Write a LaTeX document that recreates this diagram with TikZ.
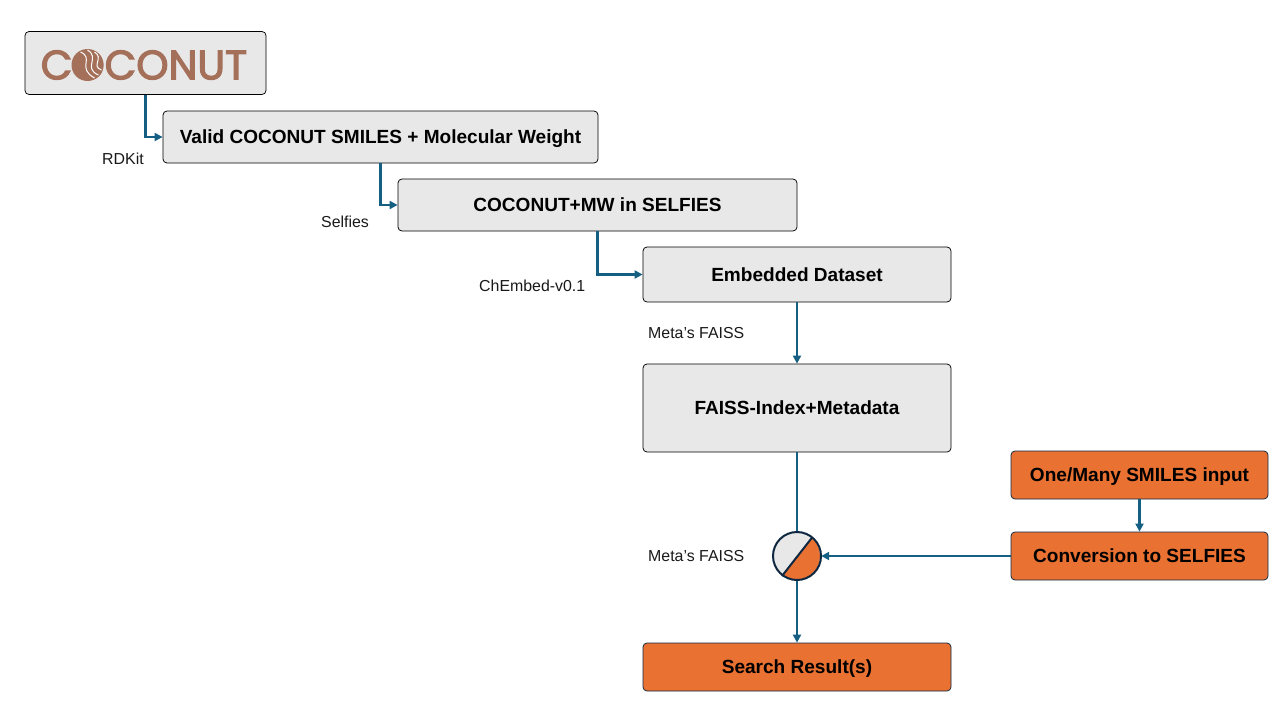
\documentclass[tikz,border=0pt]{standalone}
\usepackage{fontspec}
\setmainfont{Liberation Sans}
\newfontfamily\logof[FakeBold=3]{Poppins}
\usetikzlibrary{arrows.meta,calc}
\definecolor{boxg}{HTML}{E8E8E8}
\definecolor{orng}{HTML}{E97132}
\definecolor{conn}{HTML}{156082}
\definecolor{dark}{HTML}{0E2841}
\definecolor{logoc}{HTML}{A5705A}
\tikzset{
 x=1pt,y=-1pt,
 gbox/.style={draw=black,line width=0.75pt,fill=boxg,rounded corners=4pt,inner sep=0pt,text depth=0pt,font=\fontsize{19.05}{20}\selectfont\bfseries},
 obox/.style={gbox,draw=dark,fill=orng},
 lab/.style={font=\fontsize{15.9}{18}\selectfont,inner sep=0pt,text=black!90},
 link/.style={draw=conn,line width=2.6pt,-{Triangle[length=8pt,width=8pt]}},
}
\newcommand{\bx}[6]{\node[#1,minimum width=#4 pt,minimum height=#5 pt] (#2) at (#3) {#6};}
\begin{document}
\begin{tikzpicture}
\useasboundingbox (0,0) rectangle (1280,720);
\bx{gbox}{logo}{145.5,63}{241}{63}{}
\bx{gbox}{valid}{380.5,137}{435}{52}{Valid COCONUT SMILES + Molecular Weight}
\bx{gbox}{selfies}{597.5,205}{399}{52}{COCONUT+MW in SELFIES}
\bx{gbox}{embed}{797,274.5}{308}{55}{Embedded Dataset}
\bx{gbox}{faiss}{797,408}{308}{88}{FAISS-Index+Metadata}
\bx{obox}{search}{797,667}{308}{48}{Search Result(s)}
\bx{obox}{many}{1139.5,475}{257}{48}{One/Many SMILES input}
\bx{obox}{conv}{1139.5,556}{257}{48}{Conversion to SELFIES}
\node[circle,minimum size=48pt,inner sep=0pt] (op) at (797,556) {};
% logo
\node[inner sep=0pt,text=logoc,font=\logof\fontsize{41}{41}\selectfont] (word) at (144,65) {COCONUT};
\begin{scope}[shift={(87.5,65)}]
\fill[logoc] (0,0) circle (16);
\draw[white,line width=1pt] (-7,-13) .. controls (7,-7) and (-11,3) .. (7,13);
\draw[white,line width=1pt] (0,-15) .. controls (13,-7) and (-5,3) .. (11,10);
\draw[white,line width=1pt] (7,-13) .. controls (17,-7) and (3,1) .. (14,5);
\end{scope}
% connectors
\draw[link] (logo.south) |- (valid.west);
\draw[link] (valid.south) |- (selfies.west);
\draw[link] (selfies.south) |- (embed.west);
\draw[link] (embed.south) -- (faiss.north);
\draw[link,-] (faiss.south) -- (op.north);
\draw[link] (op.south) -- (search.north);
\draw[link] (many.south) -- (conv.north);
\draw[link] (conv.west) -- (op.east);
% summing junction
\fill[boxg] (op.center) circle (24);
\fill[orng] (782,575) -- (812.5,537) .. controls (824.5,552) and (821.5,570) .. (806.5,578) .. controls (798.5,581) and (789.5,581) .. (782,575) -- cycle;
\draw[dark,line width=2pt] (op.center) circle (24);
\draw[dark,line width=2pt] (782,576) -- (812.5,537);
\node[lab,anchor=west] (l1) at (102,159) {RDKit};
\node[lab,anchor=west] (l2) at (321,222) {Selfies};
\node[lab,anchor=west] (l3) at (479,286) {ChEmbed-v0.1};
\node[lab,anchor=west] (l4) at (648,333) {Meta’s FAISS};
\node[lab,anchor=west] (l5) at (648,556) {Meta’s FAISS};
\end{tikzpicture}
\end{document}
